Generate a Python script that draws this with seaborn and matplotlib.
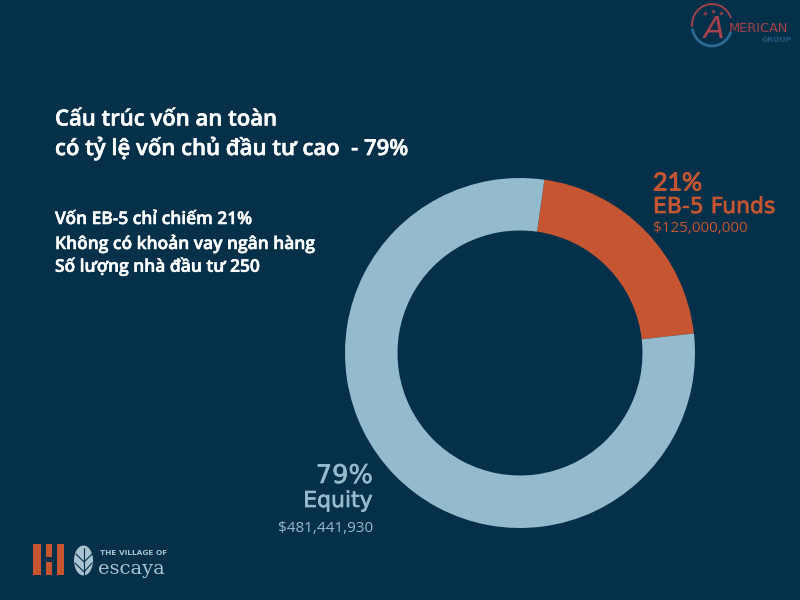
import matplotlib
matplotlib.use("Agg")
import matplotlib.pyplot as plt
import matplotlib.patches as mpatches
import matplotlib.patheffects as pe
import seaborn as sns

# Data
labels = ["EB-5 Funds", "Equity"]
shares = [21, 79]
amounts = ["$125,000,000", "$481,441,930"]
title_lines = ["Cấu trúc vốn an toàn", "có tỷ lệ vốn chủ đầu tư cao  - 79%"]
notes = ["Vốn EB-5 chỉ chiếm 21%", "Không có khoản vay ngân hàng", "Số lượng nhà đầu tư 250"]

BG = "#04304a"
ORANGE = "#c65532"
BLUE = "#94bbcd"
LOGO_BLUE = "#a9c3d0"
RED_LOGO = "#a8424a"
BLUE_LOGO = "#2a6a92"

sns.set_theme(style="white")
plt.rcParams["font.family"] = ["Open Sans", "DejaVu Sans"]

fig = plt.figure(figsize=(8, 6), dpi=100, facecolor=BG)

# Donut
ax = fig.add_axes([345 / 800, 72 / 600, 350 / 800, 350 / 600])
ax.pie(
    shares,
    colors=sns.color_palette([ORANGE, BLUE]),
    startangle=82,
    counterclock=False,
    radius=1,
    wedgeprops={"width": 0.3, "linewidth": 0},
)
ax.set_xlim(-1, 1)
ax.set_ylim(-1, 1)

# Overlay in pixel coordinates for text and logos
ov = fig.add_axes([0, 0, 1, 1], facecolor="none")
ov.set_xlim(0, 800)
ov.set_ylim(600, 0)
ov.axis("off")

semi = [pe.withStroke(linewidth=0.4, foreground="white")]
for y, line in zip([120, 148], title_lines):
    ov.text(55, y, line, color="white", fontsize=15.9, fontweight=600, va="center", path_effects=semi)
for y, line in zip([220, 244, 267], notes):
    ov.text(55, y, line, color="white", fontsize=12.5, fontweight=600, va="center", path_effects=semi)

# Slice labels
ov.text(653, 183, f"{shares[0]}%", color=ORANGE, fontsize=18, va="center", family="Lato",
        path_effects=[pe.withStroke(linewidth=0.7, foreground=ORANGE)])
ov.text(653, 207, labels[0], color=ORANGE, fontsize=15.8, va="center", family="DejaVu Sans",
        path_effects=[pe.withStroke(linewidth=0.5, foreground=ORANGE)])
ov.text(653, 229, amounts[0], color=ORANGE, fontsize=11, va="center")
ov.text(373, 476, f"{shares[1]}%", color=BLUE, fontsize=18.5, va="center", ha="right", family="DejaVu Sans",
        path_effects=[pe.withStroke(linewidth=0.4, foreground=BLUE)])
ov.text(373, 501, labels[1], color=BLUE, fontsize=15.8, va="center", ha="right", family="DejaVu Sans",
        path_effects=[pe.withStroke(linewidth=0.5, foreground=BLUE)])
ov.text(373, 528, amounts[1], color=BLUE, fontsize=11, va="center", ha="right")

# Escaya logo, bottom left
for x, y, w, h in [(33, 544, 8, 31), (46, 544, 6, 13), (46, 562, 6, 13), (57, 544, 7, 31)]:
    ov.add_patch(mpatches.Rectangle((x, y), w, h, color=ORANGE, lw=0))
ov.add_patch(mpatches.Ellipse((83.5, 560.5), 19, 30, color=LOGO_BLUE, lw=0))
ov.plot([84, 84], [548, 575], color=BG, lw=0.8)
ov.plot([76, 84, 92], [554, 562, 554], color=BG, lw=0.8)
ov.plot([75, 84, 92], [563, 572, 563], color=BG, lw=0.8)
ov.text(100, 553, "THE VILLAGE OF", color=LOGO_BLUE, fontsize=5.3, fontweight="bold", va="center", family="DejaVu Sans")
ov.text(98, 569, "escaya", color=LOGO_BLUE, fontsize=14, va="center", family="DejaVu Serif")

# American Group logo, top right
ov.add_patch(mpatches.Arc((712, 25), 40, 42, theta1=175, theta2=340, color=RED_LOGO, lw=1.3))
ov.add_patch(mpatches.Arc((712, 25), 40, 42, theta1=20, theta2=170, color=BLUE_LOGO, lw=2))
ov.scatter([705, 713, 721], [13, 11, 13], marker="*", s=14, color=RED_LOGO, lw=0)
ov.text(704, 29, "A", color=RED_LOGO, fontsize=22, va="center", style="italic", family="DejaVu Sans")
ov.text(729, 28, "MERICAN", color=RED_LOGO, fontsize=9.3, va="center", family="DejaVu Sans")
ov.text(792, 40, "GROUP", color="#235a7d", fontsize=5.4, fontweight="bold", va="center", ha="right", family="DejaVu Sans")

fig.savefig("out.png", dpi=100, facecolor=BG)
